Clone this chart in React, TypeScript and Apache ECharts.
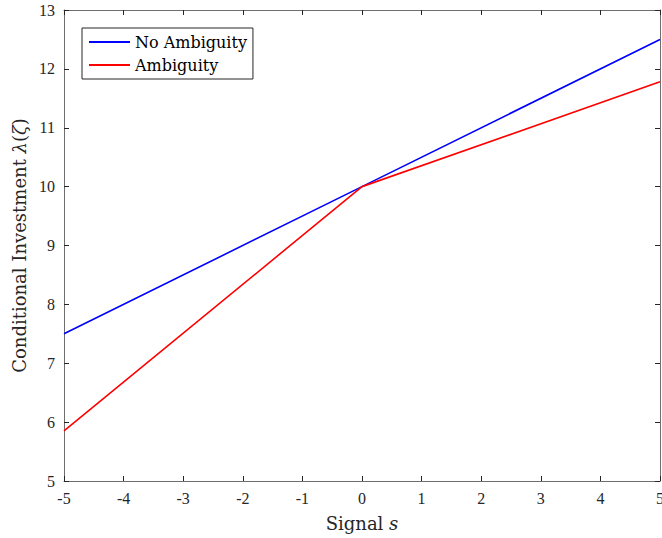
import React, { useEffect, useRef } from "react";
import * as echarts from "echarts";

// Signal grid and conditional investment under each regime
const signal = [-5, 0, 5];
const noAmbiguity = [7.5, 10, 12.5];
const ambiguity = [5.85, 10, 11.78];

const xTicks = [-5, -4, -3, -2, -1, 0, 1, 2, 3, 4, 5];
const yTicks = [5, 6, 7, 8, 9, 10, 11, 12, 13];

const TEXT_FONT = "'DejaVu Serif', 'Liberation Serif', serif";
const NUM_FONT = "'Liberation Serif', 'DejaVu Serif', serif";
const AXIS = "#262626";
const AXIS_LINE = "#6e6e6e";

export default function App() {
  const ref = useRef<HTMLDivElement>(null);

  useEffect(() => {
    if (!ref.current) return;
    const chart = echarts.init(ref.current, undefined, { renderer: "svg" });

    const pairs = (ys: number[]) => signal.map((s, i) => [s, ys[i]]);

    const baseAxis = {
      type: "value" as const,
      axisLine: { show: true, onZero: false, lineStyle: { color: AXIS_LINE, width: 1 } },
      axisTick: { show: true, inside: true, length: 5, lineStyle: { color: AXIS, width: 1 } },
      splitLine: { show: false },
    };

    const nameStyle = {
      fontFamily: TEXT_FONT,
      fontSize: 18,
      color: AXIS,
      rich: { i: { fontFamily: TEXT_FONT, fontSize: 18, fontStyle: "italic", color: AXIS } },
    };

    chart.setOption({
      animation: false,
      backgroundColor: "#ffffff",
      textStyle: { fontFamily: TEXT_FONT },
      grid: { left: 64, right: 2, top: 10, bottom: 57, containLabel: false, outerBoundsMode: "none" },
      legend: {
        orient: "vertical",
        left: 82,
        top: 28,
        padding: [5, 6, 5, 6],
        itemGap: 5,
        itemWidth: 41,
        itemHeight: 18,
        borderColor: AXIS,
        borderWidth: 1,
        borderRadius: 0,
        backgroundColor: "#ffffff",
        itemStyle: { opacity: 0 },
        textStyle: { fontFamily: TEXT_FONT, fontSize: 16, lineHeight: 18, color: "#000", padding: [0, 0, 0, 0] },
        data: ["No Ambiguity", "Ambiguity"],
      },
      xAxis: [
        {
          ...baseAxis,
          position: "bottom",
          min: xTicks[0],
          max: xTicks[xTicks.length - 1],
          interval: 1,
          axisLabel: { show: true, color: AXIS, fontSize: 16, fontFamily: NUM_FONT, margin: 9 },
          name: "Signal {i|s}",
          nameLocation: "middle",
          nameGap: 33,
          nameTextStyle: nameStyle,
        },
        {
          ...baseAxis,
          position: "top",
          min: xTicks[0],
          max: xTicks[xTicks.length - 1],
          interval: 1,
          axisLabel: { show: false },
        },
      ],
      yAxis: [
        {
          ...baseAxis,
          position: "left",
          min: yTicks[0],
          max: yTicks[yTicks.length - 1],
          interval: 1,
          axisLabel: { show: true, color: AXIS, fontSize: 16, fontFamily: NUM_FONT, margin: 9 },
          name: "Conditional Investment {i|λ}({i|ζ})",
          nameLocation: "middle",
          nameGap: 35,
          nameRotate: 90,
          nameTextStyle: nameStyle,
        },
        {
          ...baseAxis,
          position: "right",
          min: yTicks[0],
          max: yTicks[yTicks.length - 1],
          interval: 1,
          axisLabel: { show: false },
        },
      ],
      series: [
        {
          name: "No Ambiguity",
          type: "line",
          data: pairs(noAmbiguity),
          symbol: "none",
          lineStyle: { color: "#0000ff", width: 1.6 },
          itemStyle: { color: "#0000ff" },
        },
        {
          name: "Ambiguity",
          type: "line",
          data: pairs(ambiguity),
          symbol: "none",
          lineStyle: { color: "#ff0000", width: 1.6 },
          itemStyle: { color: "#ff0000" },
        },
      ],
    });

    return () => chart.dispose();
  }, []);

  return (
    <div
      ref={ref}
      style={{ position: "fixed", left: 0, top: 0, width: 662, height: 538, background: "#fff" }}
    />
  );
}
